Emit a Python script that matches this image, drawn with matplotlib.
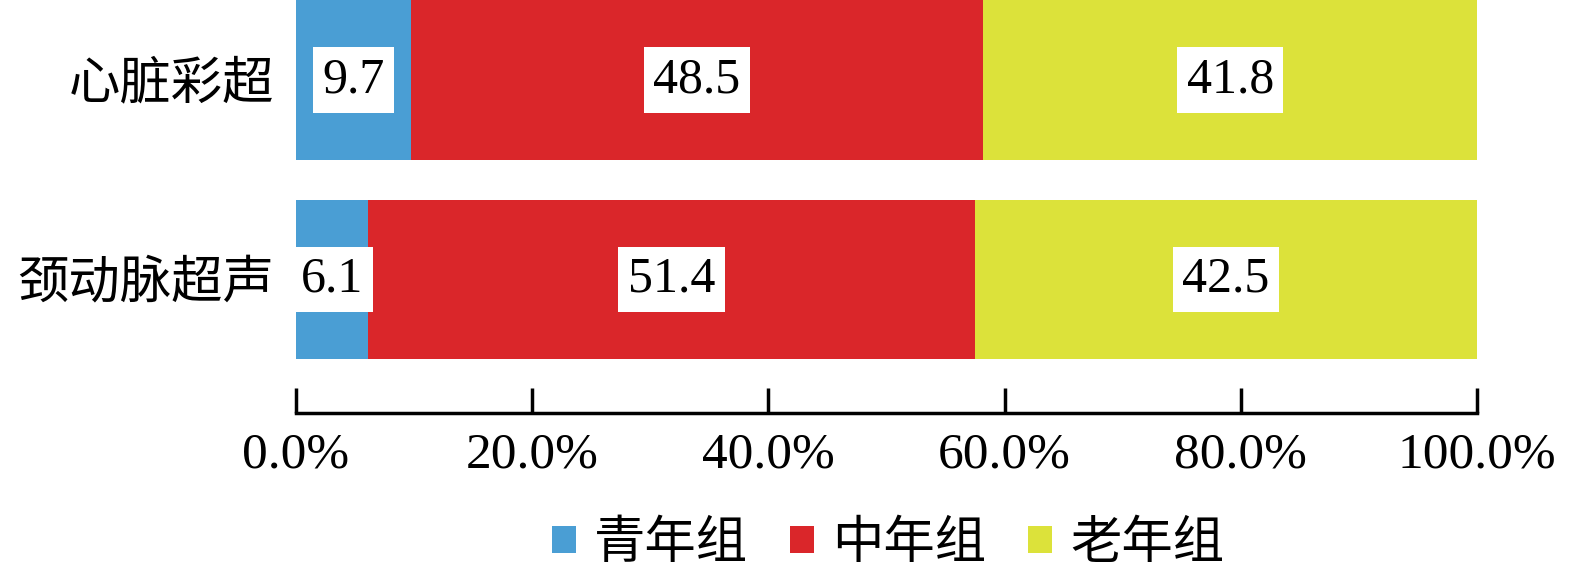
import matplotlib
matplotlib.use("Agg")
import matplotlib.pyplot as plt
import numpy as np

plt.rcParams['font.family'] = ['Liberation Serif', 'Noto Sans CJK SC', 'DejaVu Sans']

categories = ["颈动脉超声", "心脏彩超"]
groups = ["青年组", "中年组", "老年组"]
young = [6.1, 9.7]
middle = [51.4, 48.5]
old = [42.5, 41.8]
colors = ["#4A9ED4", "#DA262A", "#DCE23A"]
xticks = [0, 20, 40, 60, 80, 100]

fig = plt.figure(figsize=(15.75, 5.75), dpi=100)
ax = fig.add_axes([296 / 1575, 1 - 413 / 575, (1477 - 296) / 1575, 413 / 575])

y = np.arange(len(categories))
left = np.zeros(len(categories))
for vals, col, name in zip([young, middle, old], colors, groups):
    vals = np.array(vals)
    ax.barh(y, vals, left=left, height=0.8, color=col, label=name)
    for yi, (l, v) in enumerate(zip(left, vals)):
        ax.text(l + v / 2, yi, f"{v:.1f}", ha="center", va="center", fontsize=36,
                bbox=dict(facecolor="white", edgecolor="none", pad=7))
    left = left + vals

ax.set_xlim(0, 100)
ax.set_ylim(-0.67, 1.4)
ax.set_xticks(xticks)
ax.set_xticklabels([f"{t:.1f}%" for t in xticks], fontsize=37)
ax.tick_params(axis="x", direction="in", length=18, width=2.5, pad=14)
ax.set_yticks(y)
ax.set_yticklabels(categories, fontsize=37)
ax.tick_params(axis="y", length=0, pad=16)
for s in ["top", "right", "left"]:
    ax.spines[s].set_visible(False)
ax.spines["bottom"].set_linewidth(2.5)

fig.legend(loc="center", bbox_to_anchor=(888 / 1575, 1 - 545 / 575), ncol=3,
           frameon=False, fontsize=37, handlelength=0.48, handleheight=0.45,
           handletextpad=0.35, columnspacing=0.8, borderpad=0)

fig.savefig("out.png", dpi=100)
